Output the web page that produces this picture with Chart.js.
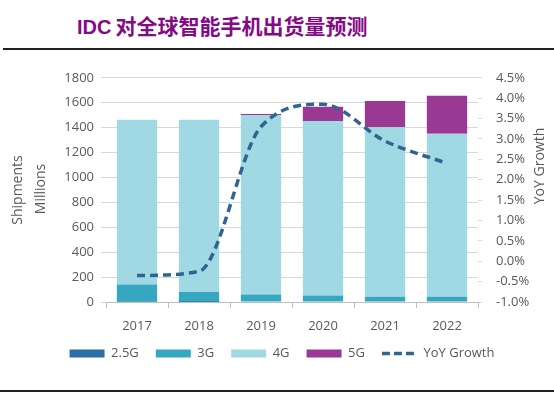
<!DOCTYPE html>
<html>
<head>
<meta charset="utf-8">
<script src="https://cdn.jsdelivr.net/npm/chart.js@4.4.1/dist/chart.umd.min.js"></script>
<style>
    body { margin: 0; width: 554px; height: 397px; background: #fff; position: relative; overflow: hidden; }
    #titulo { position: absolute; left: 77px; top: 10px; color: #850a85; font-weight: bold; white-space: nowrap; line-height: 30px; }
    #titulo .idc { font-family: "Liberation Sans", Arial, sans-serif; font-size: 20px; }
    #titulo .cjk { font-family: "Noto Sans CJK SC", sans-serif; font-size: 21px; }
    .raya { position: absolute; left: 3px; width: 551px; height: 2px; background: #222; }
    #caja { position: absolute; left: 0; top: 56px; width: 554px; height: 314px; }
</style>
</head>
<body>
<div id="titulo"><span class="idc">IDC</span> <span class="cjk">对全球智能手机出货量预测</span></div>
<div class="raya" style="top:48px"></div>
<div class="raya" style="top:390px;left:0;width:554px"></div>
<div id="caja"><canvas id="grafico"></canvas></div>
<script>
const anios = ['2017', '2018', '2019', '2020', '2021', '2022'];
const g25 = [2, 1, 0, 0, 0, 0];
const g3 = [139, 80, 61, 53, 43, 43];
const g4 = [1323, 1382, 1438, 1401, 1360, 1308];
const g5 = [0, 0, 10, 114, 211, 305];
const yoy = [-0.35, -0.25, 3.3, 3.85, 2.95, 2.4];

const gris = '#595959';
const fuente = { family: '"Open Sans", sans-serif', size: 13 };

// titulos de los ejes, girados para leerse de abajo hacia arriba
const titulosEjes = {
    id: 'titulosEjes',
    afterDraw(chart) {
        const ctx = chart.ctx;
        const poner = (texto, x, y) => {
            ctx.save();
            ctx.translate(x, y);
            ctx.rotate(-Math.PI / 2);
            ctx.fillText(texto, 0, 0);
            ctx.restore();
        };
        ctx.save();
        ctx.fillStyle = gris;
        ctx.font = '14px "Open Sans", sans-serif';
        ctx.textAlign = 'center';
        ctx.textBaseline = 'middle';
        poner('Shipments', 18, 134);
        poner('Millions', 41, 133);
        poner('YoY Growth', 540, 110);
        ctx.restore();
    }
};

function barra(nombre, datos, color) {
    return { type: 'bar', label: nombre, data: datos, backgroundColor: color, yAxisID: 'y', stack: 'a', order: 1, barPercentage: 0.65, categoryPercentage: 1 };
}

new Chart(document.getElementById('grafico'), {
    data: {
        labels: anios,
        datasets: [
            barra('2.5G', g25, '#2a6fa8'),
            barra('3G', g3, '#36a7c1'),
            barra('4G', g4, '#a0d9e4'),
            barra('5G', g5, '#9a3993'),
            {
                type: 'line', label: 'YoY Growth', data: yoy, yAxisID: 'y1', order: 0,
                borderColor: '#2f6590', borderWidth: 3.5, borderDash: [8, 5],
                pointRadius: 0, cubicInterpolationMode: 'monotone', fill: false
            }
        ]
    },
    plugins: [titulosEjes],
    options: {
        responsive: true,
        maintainAspectRatio: false,
        animation: false,
        layout: { padding: { top: 18, left: 10, right: 0, bottom: 0 } },
        plugins: {
            tooltip: { enabled: false },
            legend: {
                position: 'bottom',
                labels: {
                    usePointStyle: true,
                    pointStyleWidth: 35,
                    boxHeight: 8,
                    padding: 17,
                    color: gris,
                    font: fuente,
                    generateLabels(chart) {
                        return chart.data.datasets.map((ds, i) => {
                            const esLinea = ds.type === 'line';
                            return {
                                text: ds.label,
                                datasetIndex: i,
                                fillStyle: esLinea ? 'rgba(0,0,0,0)' : ds.backgroundColor,
                                strokeStyle: esLinea ? ds.borderColor : ds.backgroundColor,
                                lineWidth: esLinea ? 3.5 : 0,
                                lineDash: esLinea ? [8, 4] : [],
                                pointStyle: esLinea ? 'line' : 'rect',
                                fontColor: gris
                            };
                        });
                    }
                }
            }
        },
        scales: {
            x: {
                stacked: true,
                grid: { drawOnChartArea: false, drawTicks: true, tickLength: 6, color: '#bfbfbf', offset: true },
                border: { color: '#bfbfbf' },
                ticks: { color: gris, font: fuente, padding: 10 },
                afterFit(scale) { scale.height = 28; }
            },
            y: {
                stacked: true,
                position: 'left',
                min: 0, max: 1800,
                grid: { color: '#d9d9d9', tickLength: 5 },
                border: { display: false },
                ticks: { stepSize: 200, color: gris, font: fuente, padding: 7, callback: v => String(v) },
                afterFit(scale) { scale.width = 96; }
            },
            y1: {
                position: 'right',
                min: -1, max: 4.5,
                grid: { drawOnChartArea: false, tickLength: 4, color: '#d9d9d9' },
                border: { display: false },
                ticks: { stepSize: 0.5, color: gris, font: fuente, padding: 14, callback: v => v.toFixed(1) + '%' },
                afterFit(scale) { scale.width = 76; }
            }
        }
    }
});
</script>
</body>
</html>
